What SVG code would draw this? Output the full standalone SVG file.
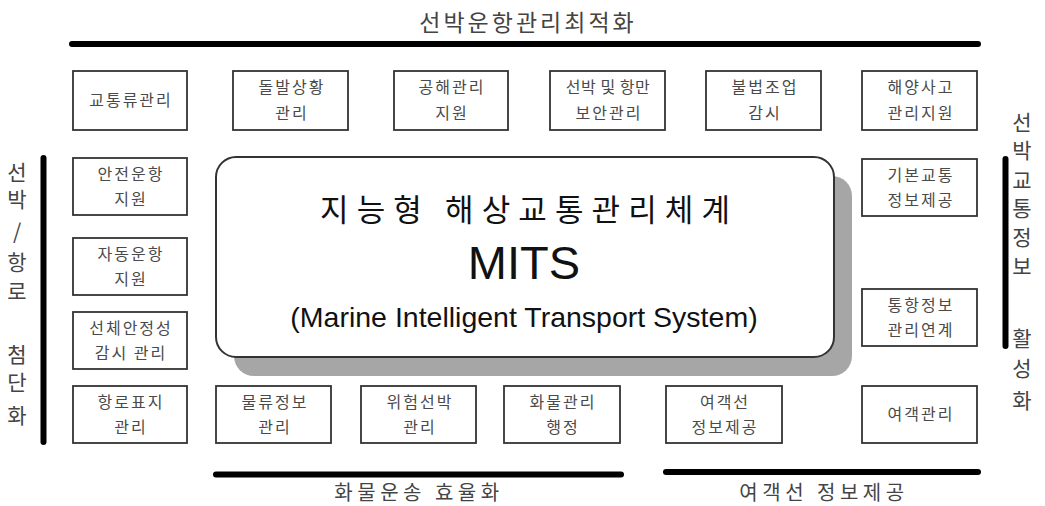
<svg xmlns="http://www.w3.org/2000/svg" width="1045" height="506" viewBox="0 0 1045 506">
<style>
.box{fill:#fff;stroke:#333;stroke-width:1.8}
.bt{font-family:"Noto Sans CJK KR","Noto Sans",sans-serif;font-size:16px;fill:#4a4a4a;text-anchor:middle;letter-spacing:2px}
.side{font-family:"Noto Sans CJK KR","Noto Sans",sans-serif;font-size:21px;fill:#444;text-anchor:middle}
.lbl{font-family:"Noto Sans CJK KR","Noto Sans",sans-serif;font-size:20px;fill:#444;text-anchor:middle;letter-spacing:4.5px}
.bar{stroke:#000;stroke-width:6;stroke-linecap:round;fill:none}
</style>
<rect width="1045" height="506" fill="#fff"/>

<g id="headers">
  <text x="528" y="31" class="lbl" style="font-size:23px;letter-spacing:3px">선박운항관리최적화</text>
  <text x="419" y="500" class="lbl">화물운송 효율화</text>
  <text x="824" y="500" class="lbl">여객선 정보제공</text>
  <g class="side">
    <text x="17" y="180">선</text>
    <text x="17" y="207">박</text>
    <text x="17" y="239">/</text>
    <text x="17" y="270">항</text>
    <text x="17" y="299">로</text>
    <text x="17" y="362">첨</text>
    <text x="17" y="390">단</text>
    <text x="17" y="423">화</text>
  </g>
  <g class="side">
    <text x="1022" y="130">선</text>
    <text x="1022" y="158">박</text>
    <text x="1022" y="188">교</text>
    <text x="1022" y="216">통</text>
    <text x="1022" y="245">정</text>
    <text x="1022" y="274">보</text>
    <text x="1022" y="346">활</text>
    <text x="1022" y="376">성</text>
    <text x="1022" y="408">화</text>
  </g>
</g>

<g id="connectors">
  <line class="bar" x1="72" y1="44" x2="978" y2="44"/>
  <line class="bar" x1="43.5" y1="158" x2="43.5" y2="442"/>
  <line class="bar" x1="1005.5" y1="159" x2="1005.5" y2="346"/>
  <line class="bar" x1="216" y1="474.5" x2="621" y2="474.5"/>
  <line class="bar" x1="666" y1="472" x2="978" y2="472"/>
</g>

<g id="mits">
  <rect x="234" y="176" width="618" height="200" rx="20" fill="#a6a6a6"/>
  <rect x="216" y="157" width="618" height="200" rx="20" fill="#fff" stroke="#333" stroke-width="2"/>
  <text x="320" y="221" textLength="410" lengthAdjust="spacing" style="font-family:'Noto Sans CJK KR','Noto Sans',sans-serif;font-size:31px;fill:#111">지능형 해상교통관리체계</text>
  <text x="524" y="279" text-anchor="middle" style="font-family:'Liberation Sans',Arial,sans-serif;font-size:47px;fill:#111">MITS</text>
  <text x="524" y="327" text-anchor="middle" style="font-family:'Liberation Sans',Arial,sans-serif;font-size:28.5px;fill:#111">(Marine Intelligent Transport System)</text>
</g>

<g id="n-traffic-flow"><rect class="box" x="73" y="71" width="114" height="59"/><text class="bt" x="131" y="106">교통류관리</text></g>
<g id="n-incident"><rect class="box" x="233" y="71" width="115" height="59"/><text class="bt" x="292" y="93">돌발상황</text><text class="bt" x="292" y="119">관리</text></g>
<g id="n-high-seas"><rect class="box" x="394" y="71" width="114" height="59"/><text class="bt" x="452" y="93">공해관리</text><text class="bt" x="452" y="119">지원</text></g>
<g id="n-security"><rect class="box" x="550" y="71" width="115" height="59"/><text class="bt" x="608" y="93" style="letter-spacing:0.5px">선박 및 항만</text><text class="bt" x="609" y="119">보안관리</text></g>
<g id="n-illegal-fishing"><rect class="box" x="706" y="71" width="115" height="59"/><text class="bt" x="765" y="93">불법조업</text><text class="bt" x="765" y="119">감시</text></g>
<g id="n-accident"><rect class="box" x="862" y="71" width="115" height="59"/><text class="bt" x="921" y="93">해양사고</text><text class="bt" x="921" y="119">관리지원</text></g>

<g id="n-safe-nav"><rect class="box" x="73" y="158" width="114" height="57"/><text class="bt" x="131" y="180">안전운항</text><text class="bt" x="131" y="205">지원</text></g>
<g id="n-auto-nav"><rect class="box" x="73" y="238" width="114" height="57"/><text class="bt" x="131" y="260">자동운항</text><text class="bt" x="131" y="285">지원</text></g>
<g id="n-hull"><rect class="box" x="73" y="312" width="114" height="57"/><text class="bt" x="131" y="334">선체안정성</text><text class="bt" x="131" y="359">감시 관리</text></g>
<g id="n-aids"><rect class="box" x="73" y="386" width="114" height="57"/><text class="bt" x="131" y="408">항로표지</text><text class="bt" x="131" y="433">관리</text></g>

<g id="n-logistics"><rect class="box" x="216" y="386" width="115" height="57"/><text class="bt" x="275" y="408">물류정보</text><text class="bt" x="275" y="433">관리</text></g>
<g id="n-dangerous"><rect class="box" x="361" y="386" width="115" height="57"/><text class="bt" x="420" y="408">위험선박</text><text class="bt" x="420" y="433">관리</text></g>
<g id="n-cargo"><rect class="box" x="504" y="386" width="116" height="57"/><text class="bt" x="563" y="408">화물관리</text><text class="bt" x="563" y="433">행정</text></g>
<g id="n-passenger-info"><rect class="box" x="666" y="386" width="116" height="57"/><text class="bt" x="725" y="408">여객선</text><text class="bt" x="725" y="433">정보제공</text></g>
<g id="n-passenger-mgmt"><rect class="box" x="862" y="386" width="115" height="57"/><text class="bt" x="921" y="420">여객관리</text></g>

<g id="n-basic-traffic"><rect class="box" x="862" y="159" width="115" height="57"/><text class="bt" x="921" y="181">기본교통</text><text class="bt" x="921" y="206">정보제공</text></g>
<g id="n-transit"><rect class="box" x="862" y="289" width="115" height="57"/><text class="bt" x="921" y="311">통항정보</text><text class="bt" x="921" y="336">관리연계</text></g>
</svg>
